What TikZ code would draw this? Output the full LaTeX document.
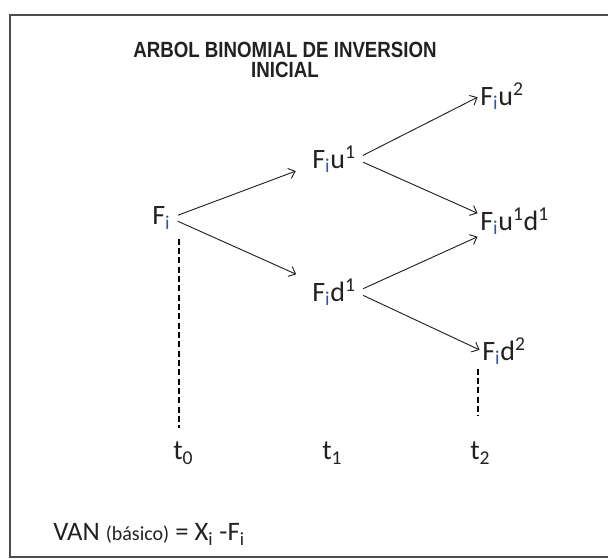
\documentclass[tikz,border=0pt]{standalone}
\usepackage{fontspec}
\setmainfont{Carlito}
\newfontfamily\titlefont[FakeStretch=0.85]{Liberation Sans}
\usepackage{xcolor}
\usetikzlibrary{positioning,arrows.meta}
\definecolor{inkgray}{gray}{0.13}
\definecolor{subblue}{rgb}{0.22,0.33,0.62}
\newcommand{\isub}[1]{\textsubscript{\textcolor{subblue}{#1}}}
\newcommand{\Fi}{F\isub{i}}

\begin{document}
\begin{tikzpicture}[x=0.75pt,y=-0.75pt]
  \tikzset{
    val/.style={inner sep=0pt,anchor=west,text=inkgray,font=\fontsize{21}{25}\selectfont},
    tlab/.style={inner sep=0pt,anchor=base west,text=inkgray,font=\fontsize{21}{25}\selectfont},
    arr/.style={-{Straight Barb[length=4.5pt,width=8pt]},line width=0.7pt,inkgray,shorten <=6pt,shorten >=2pt},
    guide/.style={line width=1.4pt,dash pattern=on 4.5pt off 2.5pt,black}}
  \clip (0,0) rectangle (608,559);
  \draw[gray!60!black,line width=1.5pt] (10,15) rectangle (650,557);
  \node[font=\titlefont\bfseries\fontsize{16.5}{15}\selectfont,align=center,text=inkgray]
    (title) at (285,60) {ARBOL BINOMIAL DE INVERSION\\INICIAL};
  % tree values
  \node[val] (fi)   at (152,218) {\Fi};
  \node[val] (fiu)  at (312,159) {\Fi u\textsuperscript{1}};
  \node[val] (fid)  at (312,292) {\Fi d\textsuperscript{1}};
  \node[val] (fiuu) at (480,96)  {\Fi u\textsuperscript{2}};
  \node[val] (fiud) at (480,221) {\Fi u\textsuperscript{1}d\textsuperscript{1}};
  \node[val] (fidd) at (482,351) {\Fi d\textsuperscript{2}};
  % branches
  \draw[arr,shorten >=13pt] (fi.east) -- ([yshift=-4.5pt]fiu.west);
  \draw[arr,shorten >=13pt] (fi.east) -- ([yshift=8pt]fid.west);
  \draw[arr] (fiu.east) -- (fiuu.west);
  \draw[arr] (fiu.east) -- ([yshift=5pt]fiud.west);
  \draw[arr] (fid.east) -- ([yshift=-11pt]fiud.west);
  \draw[arr] (fid.east) -- (fidd.west);
  % time axis
  \node[tlab] (t0) at (173,460) {t\textsubscript{0}};
  \node[tlab] (t1) at (322,460) {t\textsubscript{1}};
  \node[tlab] (t2) at (470,460) {t\textsubscript{2}};
  \draw[guide,shorten <=7pt,shorten >=10.5pt] ([xshift=6.4pt]fi.south east) -- ([xshift=6.4pt]fi.south east |- t0.north);
  \draw[guide,shorten <=3pt,shorten >=19.5pt] ([xshift=-3pt]fidd.south west) -- ([xshift=-3pt]fidd.south west |- t2.north);
  % formula
  \node[inner sep=0pt,anchor=base west,text=inkgray,font=\fontsize{20}{24}\selectfont]
    (van) at (53,541) {VAN {\fontsize{15}{18}\selectfont(básico)} = X\textsubscript{i} -F\textsubscript{i}};
\end{tikzpicture}
\end{document}
